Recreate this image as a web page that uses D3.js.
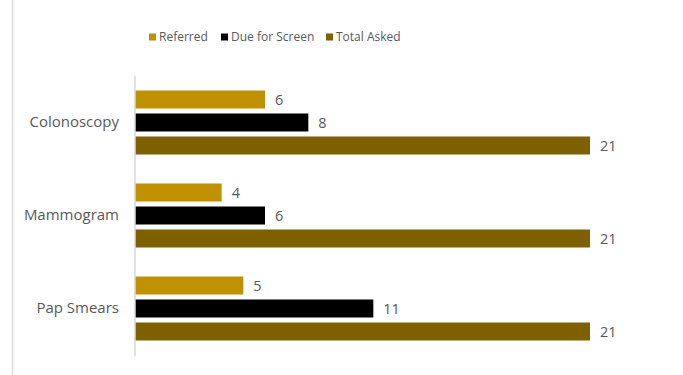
<!DOCTYPE html>
<html>
<head>
<meta charset="utf-8">
<script src="https://cdn.jsdelivr.net/npm/d3@7"></script>
<style>
	body { margin: 0; background: #fff; }
	svg { display: block; }
	text { font-family: 'Open Sans', 'Liberation Sans', sans-serif; fill: #595959; }
</style>
</head>
<body>
<svg width="683" height="375"></svg>
<script>
// screening data
var categories = ['Colonoscopy', 'Mammogram', 'Pap Smears'];
var seriesNames = ['Referred', 'Due for Screen', 'Total Asked'];
var referred = [6, 4, 5];
var dueForScreen = [8, 6, 11];
var totalAsked = [21, 21, 21];
var seriesColors = ['#BF9000', '#000000', '#7F6000'];

var seriesValues = [referred, dueForScreen, totalAsked];

var svg = d3.select('svg'),
	margin = {
		top: 75.5,
		left: 135
	},
	plotRight = 590,
	plotBottom = 354.5;

// chart border on the left
svg.append('line')
	.attr('x1', 12.5).attr('x2', 12.5)
	.attr('y1', 0).attr('y2', 375)
	.attr('stroke', '#d9d9d9')
	.attr('stroke-width', 1.5);

var x = d3.scaleLinear().domain([0, 21]).range([margin.left, plotRight]);
var y0 = d3.scaleBand().domain(categories).range([margin.top, plotBottom]);
var y1 = d3.scaleBand().domain(seriesNames).range([15, 79]).paddingInner(0.217);

// build rows from the arrays
var rows = categories.map(function(c, i) {
	return {
		cat: c,
		bars: seriesNames.map(function(s, j) {
			return { series: s, value: seriesValues[j][i], color: seriesColors[j] };
		})
	};
});

var groups = svg.selectAll('.group')
	.data(rows)
	.enter().append('g')
	.attr('class', 'group')
	.attr('transform', function(d) { return 'translate(0,' + y0(d.cat) + ')'; });

groups.selectAll('rect')
	.data(function(d) { return d.bars; })
	.enter().append('rect')
	.attr('x', x(0))
	.attr('y', function(d) { return y1(d.series); })
	.attr('width', function(d) { return x(d.value) - x(0); })
	.attr('height', y1.bandwidth())
	.attr('fill', function(d) { return d.color; });

groups.selectAll('.val')
	.data(function(d) { return d.bars; })
	.enter().append('text')
	.attr('class', 'val')
	.attr('x', function(d) { return x(d.value) + 10; })
	.attr('y', function(d) { return y1(d.series) + y1.bandwidth() / 2; })
	.attr('dy', '0.35em')
	.style('font-size', '14.5px')
	.text(function(d) { return d.value; });

// category axis
var yAxis = svg.append('g')
	.attr('transform', 'translate(' + margin.left + ',0)')
	.call(d3.axisLeft(y0).tickSize(0).tickPadding(16));
yAxis.select('.domain').attr('stroke', '#d9d9d9').attr('stroke-width', 1.5)
	.attr('d', 'M0,' + margin.top + 'V' + (plotBottom + 2));
yAxis.selectAll('text')
	.attr('fill', '#595959')
	.style('font-size', '15px')
	.style('font-family', "'Open Sans', sans-serif");

// legend
var legendX = [149, 221, 326];
var legend = svg.selectAll('.legend')
	.data(seriesNames)
	.enter().append('g')
	.attr('class', 'legend')
	.attr('transform', function(d, i) { return 'translate(' + legendX[i] + ',37)'; });
legend.append('rect')
	.attr('x', 0).attr('y', -3.5)
	.attr('width', 7).attr('height', 7)
	.attr('fill', function(d, i) { return seriesColors[i]; });
legend.append('text')
	.attr('x', 10).attr('dy', '0.35em')
	.style('font-size', '12px')
	.text(function(d) { return d; });
</script>
</body>
</html>
